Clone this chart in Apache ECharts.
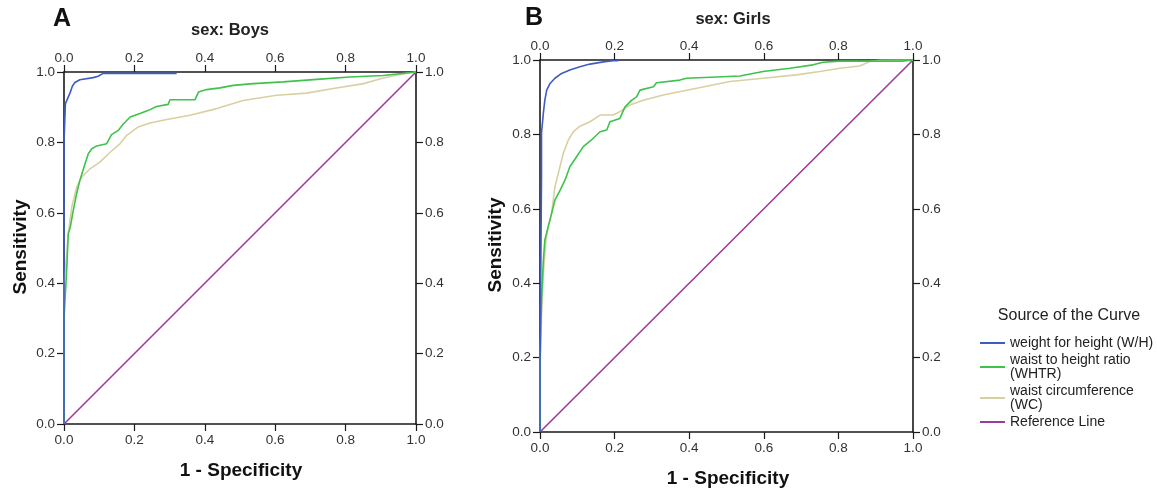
<!DOCTYPE html>
<html>
<head>
<meta charset="utf-8">
<script src="https://cdn.jsdelivr.net/npm/echarts@6/dist/echarts.min.js"></script>
<style>html,body{margin:0;padding:0;background:#fff}#c{width:1157px;height:489px}</style>
</head>
<body>
<div id="c"></div>
<script>
// ---- data ----
const seriesNames = ['weight for height (W/H)', 'waist to height ratio (WHTR)', 'waist circumference (WC)', 'Reference Line'];
const legendLabels = ['weight for height (W/H)', 'waist to height ratio\n(WHTR)', 'waist circumference\n(WC)', 'Reference Line'];
const panelTitles = ['sex: Boys', 'sex: Girls'];
const panelLetters = ['A', 'B'];
const tickValues = [0, 0.2, 0.4, 0.6, 0.8, 1.0];

const boysWH = [[0,0],[0,0.66],[0,0.80],[0.004,0.91],[0.017,0.94],[0.024,0.96],[0.031,0.97],[0.045,0.978],[0.083,0.984],[0.097,0.988],[0.111,0.996],[0.32,0.996]];
const boysWHTR = [[0,0],[0,0.30],[0.008,0.445],[0.012,0.54],[0.018,0.56],[0.025,0.60],[0.036,0.655],[0.045,0.692],[0.060,0.74],[0.069,0.768],[0.079,0.782],[0.093,0.79],[0.121,0.796],[0.126,0.796],[0.135,0.822],[0.154,0.834],[0.169,0.853],[0.188,0.872],[0.216,0.882],[0.240,0.891],[0.263,0.902],[0.296,0.908],[0.301,0.921],[0.372,0.921],[0.382,0.943],[0.405,0.95],[0.443,0.955],[0.481,0.962],[0.538,0.967],[0.623,0.972],[0.718,0.979],[0.812,0.986],[0.907,0.99],[1,1]];
const boysWC = [[0,0],[0,0.40],[0.008,0.485],[0.012,0.54],[0.022,0.616],[0.036,0.673],[0.050,0.701],[0.074,0.725],[0.102,0.744],[0.131,0.772],[0.159,0.796],[0.178,0.82],[0.211,0.844],[0.244,0.855],[0.292,0.865],[0.358,0.877],[0.434,0.896],[0.509,0.919],[0.604,0.934],[0.689,0.94],[0.765,0.953],[0.851,0.967],[0.907,0.983],[0.954,0.993],[1,1]];
const girlsWH = [[0,0],[0,0.17],[0.004,0.68],[0.004,0.803],[0.009,0.857],[0.013,0.892],[0.018,0.919],[0.027,0.937],[0.040,0.951],[0.058,0.964],[0.080,0.973],[0.107,0.982],[0.134,0.989],[0.170,0.995],[0.196,0.998],[0.21,0.998]];
const girlsWHTR = [[0,0],[0,0.175],[0.004,0.354],[0.009,0.462],[0.013,0.516],[0.022,0.552],[0.031,0.587],[0.040,0.623],[0.054,0.65],[0.067,0.677],[0.080,0.713],[0.098,0.74],[0.116,0.767],[0.138,0.785],[0.161,0.807],[0.179,0.812],[0.1875,0.834],[0.214,0.843],[0.228,0.874],[0.246,0.892],[0.259,0.901],[0.268,0.919],[0.304,0.928],[0.3125,0.939],[0.375,0.946],[0.393,0.951],[0.536,0.957],[0.598,0.969],[0.670,0.978],[0.732,0.987],[0.759,0.994],[0.804,0.997],[0.97,0.997],[1,1]];
const girlsWC = [[0,0],[0,0.175],[0.004,0.309],[0.009,0.426],[0.016,0.516],[0.022,0.552],[0.031,0.587],[0.040,0.659],[0.049,0.695],[0.0625,0.749],[0.076,0.785],[0.089,0.807],[0.107,0.822],[0.134,0.834],[0.161,0.852],[0.196,0.852],[0.214,0.861],[0.241,0.879],[0.277,0.892],[0.330,0.906],[0.420,0.924],[0.509,0.942],[0.598,0.951],[0.6875,0.96],[0.750,0.969],[0.804,0.978],[0.857,0.984],[0.884,0.996],[0.910,0.999],[1,1]];
const refLine = [[0,0],[1,1]];

const colors = ['#3d5cc4', '#3ec24c', '#d9d0a2', '#9b3c9b'];

// ---- chart ----
const chart = echarts.init(document.getElementById('c'), null, {renderer: 'canvas'});
const FONT = 'Liberation Sans, Arial, sans-serif';
const grids = [
  {left: 64, top: 72, width: 352, height: 352},
  {left: 540, top: 60, width: 373, height: 372}
];
function fmt(v){ return v.toFixed(1); }
function lbl(margin){ return {show: true, color: '#333', fontFamily: FONT, fontSize: 13.5, formatter: fmt, margin: margin, showMaxLabel: true, showMinLabel: true}; }
function axisBase(extra){
  return Object.assign({
    type: 'value', min: 0, max: 1, interval: 0.2,
    splitLine: {show: false},
    axisLine: {show: true, onZero: false, lineStyle: {color: '#1a1a1a', width: 1.6}},
    axisTick: {show: true, inside: false, length: 7, lineStyle: {color: '#1a1a1a', width: 1.2}},
    axisLabel: lbl(8)
  }, extra);
}
const xAxes = [], yAxes = [];
grids.forEach((g, i) => {
  xAxes.push(axisBase({gridIndex: i, position: 'bottom', axisLabel: lbl(9)}));
  xAxes.push(axisBase({gridIndex: i, position: 'top', axisLabel: lbl(7)}));
  yAxes.push(axisBase({gridIndex: i, position: 'left', axisLabel: lbl(9)}));
  yAxes.push(axisBase({gridIndex: i, position: 'right', axisLabel: lbl(9)}));
});

const panelData = [[boysWH, boysWHTR, boysWC, refLine], [girlsWH, girlsWHTR, girlsWC, refLine]];
const series = [];
panelData.forEach((arrs, p) => {
  arrs.forEach((d, k) => {
    series.push({
      type: 'line', name: seriesNames[k], data: d,
      xAxisIndex: p * 2, yAxisIndex: p * 2,
      showSymbol: false, symbol: 'none', animation: false,
      lineStyle: {color: colors[k], width: 1.6},
      itemStyle: {color: colors[k]},
      z: k === 3 ? 2 : 3 + (2 - k)
    });
  });
});

const nameMap = {};
seriesNames.forEach((n, i) => nameMap[n] = legendLabels[i]);

const graphics = [];
// panel letters
graphics.push({type: 'text', x: 62, y: 19, style: {text: panelLetters[0], font: 'bold 25px ' + FONT, fill: '#111', align: 'center', verticalAlign: 'middle'}});
graphics.push({type: 'text', x: 534, y: 18, style: {text: panelLetters[1], font: 'bold 25px ' + FONT, fill: '#111', align: 'center', verticalAlign: 'middle'}});
// panel titles
graphics.push({type: 'text', x: 230, y: 30, style: {text: panelTitles[0], font: 'bold 16.5px ' + FONT, fill: '#222', align: 'center', verticalAlign: 'middle'}});
graphics.push({type: 'text', x: 733, y: 19, style: {text: panelTitles[1], font: 'bold 16.5px ' + FONT, fill: '#222', align: 'center', verticalAlign: 'middle'}});
// axis titles
graphics.push({type: 'text', x: 241, y: 471, style: {text: '1 - Specificity', font: 'bold 19px ' + FONT, fill: '#111', align: 'center', verticalAlign: 'middle'}});
graphics.push({type: 'text', x: 728, y: 479, style: {text: '1 - Specificity', font: 'bold 19px ' + FONT, fill: '#111', align: 'center', verticalAlign: 'middle'}});
graphics.push({type: 'text', x: 21, y: 247, rotation: Math.PI / 2, style: {text: 'Sensitivity', font: 'bold 19px ' + FONT, fill: '#111', align: 'center', verticalAlign: 'middle'}});
graphics.push({type: 'text', x: 496, y: 245, rotation: Math.PI / 2, style: {text: 'Sensitivity', font: 'bold 19px ' + FONT, fill: '#111', align: 'center', verticalAlign: 'middle'}});
// legend title
graphics.push({type: 'text', x: 1069, y: 316, style: {text: 'Source of the Curve', font: '16px ' + FONT, fill: '#222', align: 'center', verticalAlign: 'middle'}});

chart.setOption({
  backgroundColor: '#fff',
  animation: false,
  grid: grids,
  xAxis: xAxes,
  yAxis: yAxes,
  legend: {
    orient: 'vertical', left: 975, top: 331,
    icon: 'rect', itemWidth: 25, itemHeight: 2, itemGap: 3,
    data: seriesNames,
    formatter: n => nameMap[n],
    textStyle: {fontFamily: FONT, fontSize: 14, color: '#222', lineHeight: 14},
    selectedMode: false
  },
  graphic: graphics,
  series: series
});
</script>
</body>
</html>
